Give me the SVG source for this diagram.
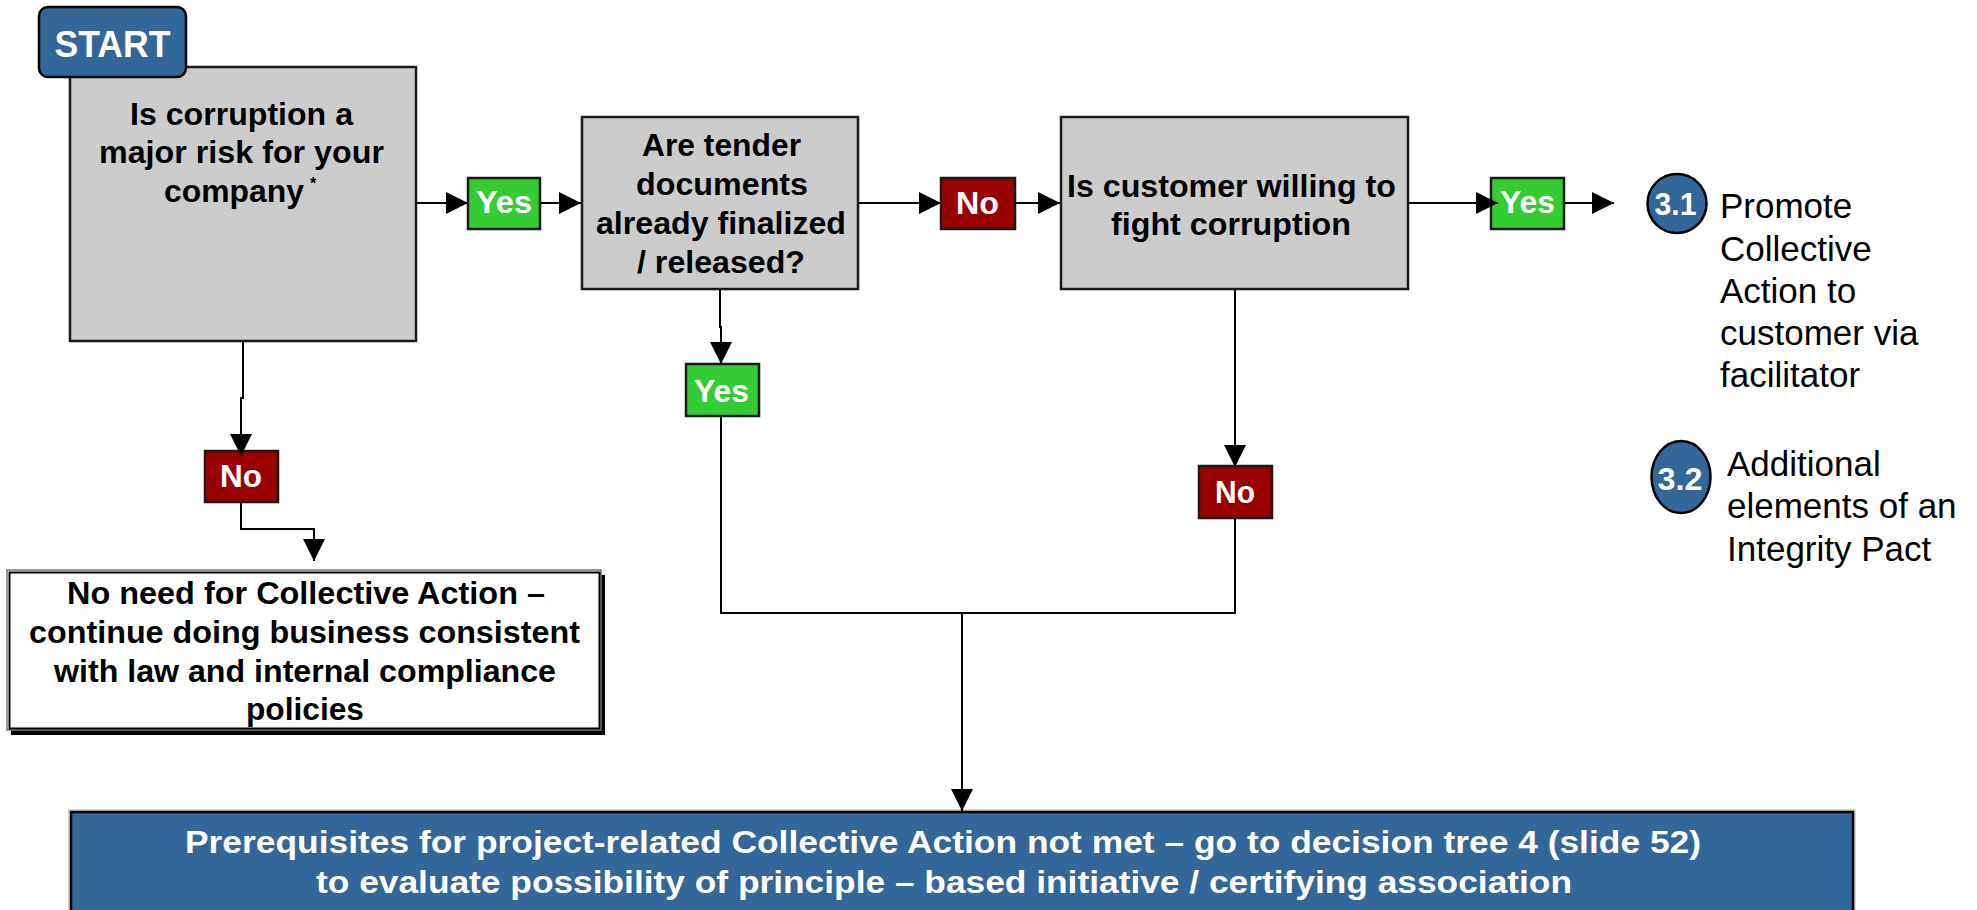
<svg xmlns="http://www.w3.org/2000/svg" width="1977" height="910" viewBox="0 0 1977 910">
  <defs>
    <marker id="arrow" markerUnits="userSpaceOnUse" markerWidth="22" markerHeight="22" refX="22" refY="11" orient="auto">
      <path d="M0,0 L22,11 L0,22 Z" fill="#000"/>
    </marker>
    <style>
      .q { fill: #cccccc; stroke: #1a1a1a; stroke-width: 2.5; }
      .yes { fill: #33cc33; stroke: #1a1a1a; stroke-width: 2.5; }
      .no { fill: #990000; stroke: #1a1a1a; stroke-width: 2.5; }
      .blue { fill: #336699; stroke: #000; stroke-width: 2.5; }
      .t { font-family: "Liberation Sans", Arial, sans-serif; font-weight: bold; font-size: 31px; fill: #000; }
      .w { font-family: "Liberation Sans", Arial, sans-serif; font-weight: bold; font-size: 31px; fill: #fff; }
      .r { font-family: "Liberation Sans", Arial, sans-serif; font-size: 35px; fill: #000; }
      .c { fill: none; stroke: #000; stroke-width: 2; }
    </style>
  </defs>

  <rect width="1977" height="910" fill="#fff"/>

  <!-- question 1 -->
  <g id="q1">
    <rect class="q" x="70" y="67" width="346" height="274"/>
    <text class="t" x="130" y="125" textLength="223" lengthAdjust="spacingAndGlyphs">Is corruption a</text>
    <text class="t" x="99" y="163" textLength="285" lengthAdjust="spacingAndGlyphs">major risk for your</text>
    <text class="t" x="164" y="202" textLength="140" lengthAdjust="spacingAndGlyphs">company</text>
    <text class="t" x="310" y="189" style="font-size:16px">*</text>
  </g>

  <!-- start tag -->
  <g id="start">
    <rect class="blue" x="39" y="7" width="147" height="70" rx="9"/>
    <text class="w" x="112.5" y="57" text-anchor="middle" style="font-size:37px" textLength="116" lengthAdjust="spacingAndGlyphs">START</text>
  </g>

  <!-- question 2 -->
  <g id="q2">
    <rect class="q" x="582" y="117" width="276" height="172"/>
    <text class="t" x="642" y="156" textLength="159" lengthAdjust="spacingAndGlyphs">Are tender</text>
    <text class="t" x="636" y="195" textLength="172" lengthAdjust="spacingAndGlyphs">documents</text>
    <text class="t" x="596" y="234" textLength="250" lengthAdjust="spacingAndGlyphs">already finalized</text>
    <text class="t" x="637" y="273" textLength="168" lengthAdjust="spacingAndGlyphs">/ released?</text>
  </g>

  <!-- question 3 -->
  <g id="q3">
    <rect class="q" x="1061" y="117" width="347" height="172"/>
    <text class="t" x="1067" y="197" textLength="329" lengthAdjust="spacingAndGlyphs">Is customer willing to</text>
    <text class="t" x="1111" y="235" textLength="240" lengthAdjust="spacingAndGlyphs">fight corruption</text>
  </g>

  <!-- answer labels -->
  <g id="yes1">
    <rect class="yes" x="468" y="178" width="72" height="51"/>
    <text class="w" x="476" y="213" textLength="56" lengthAdjust="spacingAndGlyphs">Yes</text>
  </g>
  <g id="no1">
    <rect class="no" x="941" y="178" width="74" height="51"/>
    <text class="w" x="956" y="214" textLength="43" lengthAdjust="spacingAndGlyphs">No</text>
  </g>
  <g id="yes3">
    <rect class="yes" x="1491" y="178" width="73" height="51"/>
    <text class="w" x="1500" y="213" textLength="55" lengthAdjust="spacingAndGlyphs">Yes</text>
  </g>
  <g id="yes2">
    <rect class="yes" x="686" y="364" width="73" height="52"/>
    <text class="w" x="694" y="402" textLength="55" lengthAdjust="spacingAndGlyphs">Yes</text>
  </g>
  <g id="no2">
    <rect class="no" x="1199" y="466" width="73" height="52"/>
    <text class="w" x="1215" y="503" textLength="40" lengthAdjust="spacingAndGlyphs">No</text>
  </g>
  <g id="no0">
    <rect class="no" x="205" y="451" width="73" height="51"/>
    <text class="w" x="220" y="487" textLength="42" lengthAdjust="spacingAndGlyphs">No</text>
  </g>

  <!-- outcome: no need -->
  <g id="no-need">
    <rect x="11" y="575" width="594" height="160" fill="#000"/>
    <rect x="7" y="570" width="594" height="160" fill="#fff" stroke="#777" stroke-width="1.5"/>
    <rect x="9.5" y="572.5" width="590" height="156" fill="none" stroke="#000" stroke-width="2"/>
    <text class="t" x="67" y="604" textLength="478" lengthAdjust="spacingAndGlyphs">No need for Collective Action –</text>
    <text class="t" x="29" y="643" textLength="551" lengthAdjust="spacingAndGlyphs">continue doing business consistent</text>
    <text class="t" x="54" y="682" textLength="502" lengthAdjust="spacingAndGlyphs">with law and internal compliance</text>
    <text class="t" x="246" y="720" textLength="118" lengthAdjust="spacingAndGlyphs">policies</text>
  </g>

  <!-- outcome: prerequisites not met -->
  <g id="not-met">
    <rect x="69" y="810" width="1786" height="110" fill="none" stroke="#aaa" stroke-width="1"/>
    <rect class="blue" x="71" y="812" width="1782" height="110" stroke-width="3"/>
    <text class="w" x="185" y="853" textLength="1516" lengthAdjust="spacingAndGlyphs">Prerequisites for project-related Collective Action not met – go to decision tree 4 (slide 52)</text>
    <text class="w" x="316" y="893" textLength="1256" lengthAdjust="spacingAndGlyphs">to evaluate possibility of principle – based initiative / certifying association</text>
  </g>

  <!-- references 3.1 and 3.2 -->
  <g id="ref31">
    <circle class="blue" cx="1677" cy="203.5" r="29.5"/>
    <text class="w" x="1675.5" y="215" text-anchor="middle" style="font-size:32px" textLength="42" lengthAdjust="spacingAndGlyphs">3.1</text>
    <text class="r" x="1720" y="218">Promote</text>
    <text class="r" x="1720" y="261">Collective</text>
    <text class="r" x="1720" y="303">Action to</text>
    <text class="r" x="1720" y="345">customer via</text>
    <text class="r" x="1720" y="387">facilitator</text>
  </g>
  <g id="ref32">
    <ellipse class="blue" cx="1681" cy="477" rx="29.5" ry="36"/>
    <text class="w" x="1680" y="490" text-anchor="middle" style="font-size:32px" textLength="45" lengthAdjust="spacingAndGlyphs">3.2</text>
    <text class="r" x="1727" y="476">Additional</text>
    <text class="r" x="1727" y="518">elements of an</text>
    <text class="r" x="1727" y="561">Integrity Pact</text>
  </g>

  <!-- connectors -->
  <g id="connectors">
    <path class="c" d="M416,203 H468" marker-end="url(#arrow)"/>
    <path class="c" d="M540,203 H581" marker-end="url(#arrow)"/>
    <path class="c" d="M858,203 H941" marker-end="url(#arrow)"/>
    <path class="c" d="M1015,203 H1060" marker-end="url(#arrow)"/>
    <path class="c" d="M1408,203 H1498" marker-end="url(#arrow)"/>
    <path class="c" d="M1564,203 H1614" marker-end="url(#arrow)"/>
    <path class="c" d="M243,341 V398 H241 V456" marker-end="url(#arrow)"/>
    <path class="c" d="M241,502 V529 H314 V561" marker-end="url(#arrow)"/>
    <path class="c" d="M720,289 V327 H721 V364" marker-end="url(#arrow)"/>
    <path class="c" d="M1235,289 V467" marker-end="url(#arrow)"/>
    <path class="c" d="M721,416 V613 H1235 V518"/>
    <path class="c" d="M962,613 V811" marker-end="url(#arrow)"/>
  </g>
</svg>
